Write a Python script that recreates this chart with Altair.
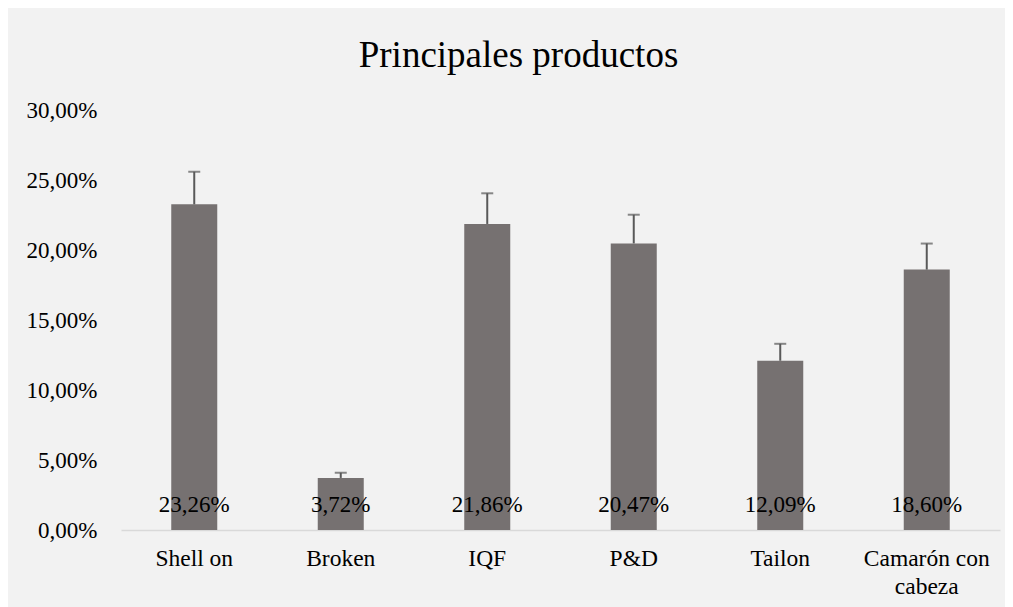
import altair as alt
import pandas as pd

categories = ["Shell on", "Broken", "IQF", "P&D", "Tailon", "Camarón con cabeza"]
values = [23.26, 3.72, 21.86, 20.47, 12.09, 18.60]
err_top = [25.59, 4.09, 24.05, 22.52, 13.30, 20.46]

df = pd.DataFrame({"cat": categories, "val": values, "top": err_top})

FONT = "Liberation Serif"
x = alt.X("cat:N", sort=categories, title=None,
          scale=alt.Scale(paddingInner=0, paddingOuter=0),
          axis=alt.Axis(labelAngle=0, labelFont=FONT, labelFontSize=23.5, labelColor="#000000",
                        labelPadding=16, ticks=False, domainColor="#d9d9d9", domainWidth=1.5,
                        labelLineHeight=28,
                        labelExpr="datum.label == 'Camarón con cabeza' ? ['Camarón con', 'cabeza'] : datum.label"))
y = alt.Y("val:Q", title=None,
          scale=alt.Scale(domain=[0, 30], nice=False),
          axis=alt.Axis(values=[0, 5, 10, 15, 20, 25, 30], grid=False, domain=False, ticks=False,
                        labelFont=FONT, labelFontSize=23, labelColor="#000000", labelPadding=24,
                        labelExpr="replace(format(datum.value, '.2f'), '.', ',') + '%'"))

base = alt.Chart(df)
bars = base.mark_bar(width=46, color="#767171").encode(x=x, y=y)
rule = base.mark_rule(color="#595959", strokeWidth=2).encode(x=x, y="val:Q", y2="top:Q")
cap = base.mark_tick(color="#595959", thickness=2, size=12, orient="horizontal").encode(x=x, y="top:Q")
labels = base.transform_calculate(
    lab="replace(format(datum.val, '.2f'), '.', ',') + '%'", zero="0"
).mark_text(font=FONT, fontSize=23, color="#000000", dy=-25, baseline="middle").encode(
    x=x, y=alt.Y("zero:Q"), text="lab:N")

chart = alt.layer(bars, rule, cap, labels).properties(
    width=879, height=420,
    autosize=alt.AutoSizeParams(type="none"),
    padding={"left": 113, "top": 102, "right": 5, "bottom": 77},
    background="#f2f2f2",
    title=alt.TitleParams("Principales productos", font=FONT, fontSize=37, fontWeight="normal",
                          color="#000000", anchor="middle", dx=-42, offset=24),
).configure_view(stroke=None)

chart.save("out.html", embed_options={"renderer": "svg", "actions": False})
